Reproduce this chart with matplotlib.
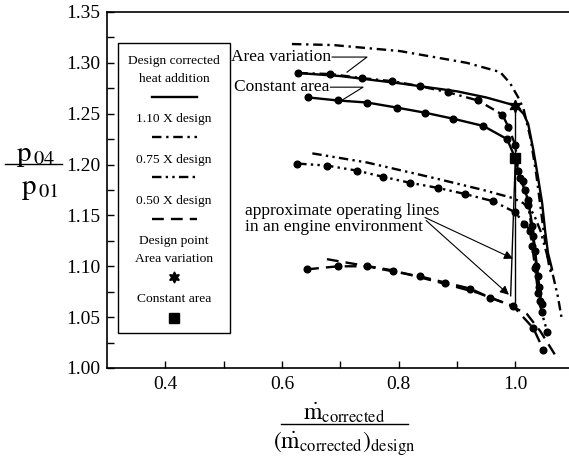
import matplotlib
matplotlib.use("Agg")
import matplotlib.pyplot as plt
from matplotlib.lines import Line2D
from matplotlib.patches import Rectangle

plt.rcParams['font.family'] = ['Liberation Serif', 'DejaVu Serif']
plt.rcParams['mathtext.fontset'] = 'stix'

# ---------------- data ----------------
# Design corrected heat addition
des_av_x = [0.628, 0.70, 0.80, 0.90, 0.95, 1.0, 1.014, 1.022, 1.031, 1.039, 1.046, 1.051, 1.056, 1.063]
des_av_y = [1.290, 1.287, 1.280, 1.272, 1.266, 1.258, 1.250, 1.240, 1.214, 1.187, 1.162, 1.135, 1.113, 1.097]
des_ca_x = [0.645, 0.696, 0.746, 0.797, 0.845, 0.894, 0.945, 0.986, 1.0, 1.008, 1.016, 1.022, 1.029, 1.034, 1.039, 1.043]
des_ca_y = [1.266, 1.263, 1.261, 1.256, 1.251, 1.245, 1.238, 1.225, 1.206, 1.187, 1.175, 1.165, 1.140, 1.115, 1.090, 1.066]

# 1.10 X design
h110_av_x = [0.617, 0.688, 0.802, 0.917, 0.974, 0.991, 1.005, 1.014, 1.026, 1.036, 1.045, 1.052, 1.058, 1.063]
h110_av_y = [1.3185, 1.3175, 1.3116, 1.300, 1.291, 1.280, 1.266, 1.255, 1.226, 1.190, 1.150, 1.120, 1.100, 1.090]
h110_ca_x = [0.628, 0.683, 0.737, 0.789, 0.837, 0.885, 0.936, 0.978, 0.988, 1.0, 1.005, 1.014, 1.022, 1.030, 1.036, 1.041, 1.045]
h110_ca_y = [1.290, 1.289, 1.285, 1.282, 1.277, 1.271, 1.263, 1.249, 1.237, 1.219, 1.194, 1.184, 1.160, 1.130, 1.100, 1.080, 1.063]

# 0.75 X design
h075_av_x = [0.652, 0.746, 0.859, 0.945, 0.996, 1.014, 1.031, 1.043, 1.055, 1.065, 1.073, 1.080]
h075_av_y = [1.211, 1.202, 1.187, 1.175, 1.167, 1.162, 1.152, 1.135, 1.110, 1.090, 1.070, 1.047]
h075_ca_x = [0.626, 0.677, 0.729, 0.773, 0.820, 0.868, 0.914, 0.962, 1.0, 1.015, 1.026, 1.029, 1.034, 1.039, 1.045, 1.055]
h075_ca_y = [1.201, 1.199, 1.194, 1.188, 1.182, 1.177, 1.171, 1.164, 1.153, 1.142, 1.135, 1.120, 1.098, 1.074, 1.055, 1.035]

# 0.50 X design
h050_av_x = [0.677, 0.717, 0.790, 0.871, 0.935, 0.986, 1.020, 1.043, 1.068]
h050_av_y = [1.107, 1.103, 1.096, 1.084, 1.074, 1.063, 1.053, 1.036, 1.013]
h050_ca_x = [0.643, 0.696, 0.746, 0.790, 0.837, 0.880, 0.923, 0.957, 0.996, 1.031, 1.048]
h050_ca_y = [1.097, 1.100, 1.100, 1.095, 1.090, 1.084, 1.078, 1.069, 1.061, 1.039, 1.018]

# design points
design_av = (1.0, 1.258)
design_ca = (1.0, 1.206)

# approximate operating lines
op_av_x = [1.0, 1.0]
op_av_y = [1.258, 1.065]
op_ca_x = [1.0, 0.992]
op_ca_y = [1.206, 1.071]

x_ticks = [0.4, 0.6, 0.8, 1.0]
x_tick_labels = ['0.4', '0.6', '0.8', '1.0']
y_ticks = [1.00, 1.05, 1.10, 1.15, 1.20, 1.25, 1.30, 1.35]
y_tick_labels = ['1.00', '1.05', '1.10', '1.15', '1.20', '1.25', '1.30', '1.35']

# ---------------- figure ----------------
W, H = 569, 457
fig = plt.figure(figsize=(W / 100, H / 100), dpi=100)
ax = fig.add_axes([107 / W, (H - 368) / H, 462 / W, 356 / H])

LW = 1.7
ls_110 = (0, (4, 2, 1, 2))
ls_075 = (0, (4, 1.8, 1, 1.8, 1, 1.8))
ls_050 = (0, (5, 3))
MS = 4.8

ax.plot(des_av_x, des_av_y, color='black', lw=LW, ls='-')
ax.plot(des_ca_x, des_ca_y, color='black', lw=LW, ls='-', marker='o', ms=MS)
ax.plot(h110_av_x, h110_av_y, color='black', lw=LW, ls=ls_110)
ax.plot(h110_ca_x, h110_ca_y, color='black', lw=LW, ls=ls_110, marker='o', ms=MS)
ax.plot(h075_av_x, h075_av_y, color='black', lw=LW, ls=ls_075)
ax.plot(h075_ca_x, h075_ca_y, color='black', lw=LW, ls=ls_075, marker='o', ms=MS)
ax.plot(h050_av_x, h050_av_y, color='black', lw=LW, ls=ls_050)
ax.plot(h050_ca_x, h050_ca_y, color='black', lw=LW, ls=ls_050, marker='o', ms=MS)

ax.plot(op_av_x, op_av_y, color='black', lw=1.0)
ax.plot(op_ca_x, op_ca_y, color='black', lw=1.0)

ax.plot([design_av[0]], [design_av[1]], color='black', marker=(6, 1, 0), ms=9, ls='none', zorder=5)
ax.plot([design_ca[0]], [design_ca[1]], color='black', marker='s', ms=7, ls='none', zorder=5)

ax.set_xlim(0.3, 1.092)
ax.set_ylim(1.0, 1.35)
ax.set_xticks(x_ticks)
ax.set_xticklabels(x_tick_labels)
ax.set_xticks([0.5, 0.7, 0.9], minor=True)
ax.set_yticks(y_ticks)
ax.set_yticklabels(y_tick_labels)
ax.set_yticks([1.025, 1.075, 1.125, 1.175, 1.225, 1.275, 1.325], minor=True)
ax.tick_params(which='both', direction='in', length=5, width=1.0)
ax.tick_params(axis='both', labelsize=14)
ax.tick_params(axis='x', pad=6)
ax.tick_params(axis='y', pad=5)
ax.spines['right'].set_visible(False)
for s in ['left', 'bottom', 'top']:
    ax.spines[s].set_linewidth(1.2)

# annotations for top curves
ax.text(0.684, 1.3057, 'Area variation', ha='right', va='center', fontsize=12.5)
ax.plot([0.686, 0.7457, 0.7115], [1.3057, 1.3057, 1.2909], color='black', lw=0.8)
ax.text(0.681, 1.2761, 'Constant area', ha='right', va='center', fontsize=12.5)
ax.plot([0.683, 0.7389, 0.7029], [1.2761, 1.2761, 1.2633], color='black', lw=0.8)

ax.text(0.537, 1.1465, 'approximate operating lines\nin an engine environment', ha='left',
        va='center', fontsize=12.5, linespacing=0.95)
arrow_kw = dict(arrowstyle='-|>', mutation_scale=13, lw=0.8, color='black', shrinkA=0, shrinkB=0)
ax.annotate('', xy=(0.996, 1.1075), xytext=(0.845, 1.148), arrowprops=arrow_kw)
ax.annotate('', xy=(0.989, 1.072), xytext=(0.847, 1.145), arrowprops=arrow_kw)

# custom legend box (axes fraction)
T = ax.transAxes
ax.add_patch(Rectangle((0.0238, 0.098), 0.2425, 0.815, transform=T, fill=False,
                       edgecolor='black', lw=1.0, zorder=6))
cx = 0.145
lx0, lx1 = 0.0974, 0.1948
fs_leg = 9.7
ax.text(cx, 0.862, 'Design corrected', transform=T, ha='center', va='center', fontsize=fs_leg)
ax.text(cx, 0.812, 'heat addition', transform=T, ha='center', va='center', fontsize=fs_leg)
ax.add_line(Line2D([lx0, lx1], [0.761, 0.761], transform=T, color='black', lw=LW))
ax.text(cx, 0.699, '1.10 X design', transform=T, ha='center', va='center', fontsize=fs_leg)
ax.add_line(Line2D([lx0, lx1], [0.649, 0.649], transform=T, color='black', lw=LW, ls=ls_110))
ax.text(cx, 0.584, '0.75 X design', transform=T, ha='center', va='center', fontsize=fs_leg)
ax.add_line(Line2D([lx0, lx1], [0.537, 0.537], transform=T, color='black', lw=LW, ls=ls_075))
ax.text(cx, 0.469, '0.50 X design', transform=T, ha='center', va='center', fontsize=fs_leg)
ax.add_line(Line2D([lx0, lx1], [0.419, 0.419], transform=T, color='black', lw=LW, ls=ls_050))
ax.text(cx, 0.357, 'Design point', transform=T, ha='center', va='center', fontsize=fs_leg)
ax.text(cx, 0.306, 'Area variation', transform=T, ha='center', va='center', fontsize=fs_leg)
ax.add_line(Line2D([cx], [0.256], transform=T, color='black', marker=(6, 1, 0), ms=8, ls='none'))
ax.text(cx, 0.194, 'Constant area', transform=T, ha='center', va='center', fontsize=fs_leg)
ax.add_line(Line2D([cx], [0.140], transform=T, color='black', marker='s', ms=7, ls='none'))

# axis labels as fractions (figure pixel coords)
def fx(px):
    return px / W

def fy(py):
    return (H - py) / H

fig.text(fx(344), fy(413), r'$\dot{\mathrm{m}}_{\mathrm{corrected}}$', ha='center', va='center', fontsize=17)
fig.add_artist(Line2D([fx(281), fx(408)], [fy(424), fy(424)], color='black', lw=1.0))
fig.text(fx(344), fy(444), r'$\left(\dot{\mathrm{m}}_{\mathrm{corrected}}\right)_{\mathrm{design}}$',
         ha='center', va='center', fontsize=17)

fig.text(fx(36), fy(156), r'$\mathrm{p}_{\,\mathrm{04}}$', ha='center', va='center', fontsize=21)
fig.add_artist(Line2D([fx(5), fx(62)], [fy(164), fy(164)], color='black', lw=1.0))
fig.text(fx(40), fy(189), r'$\mathrm{p}_{\,\mathrm{01}}$', ha='center', va='center', fontsize=21)

fig.savefig('out.png', dpi=100)
